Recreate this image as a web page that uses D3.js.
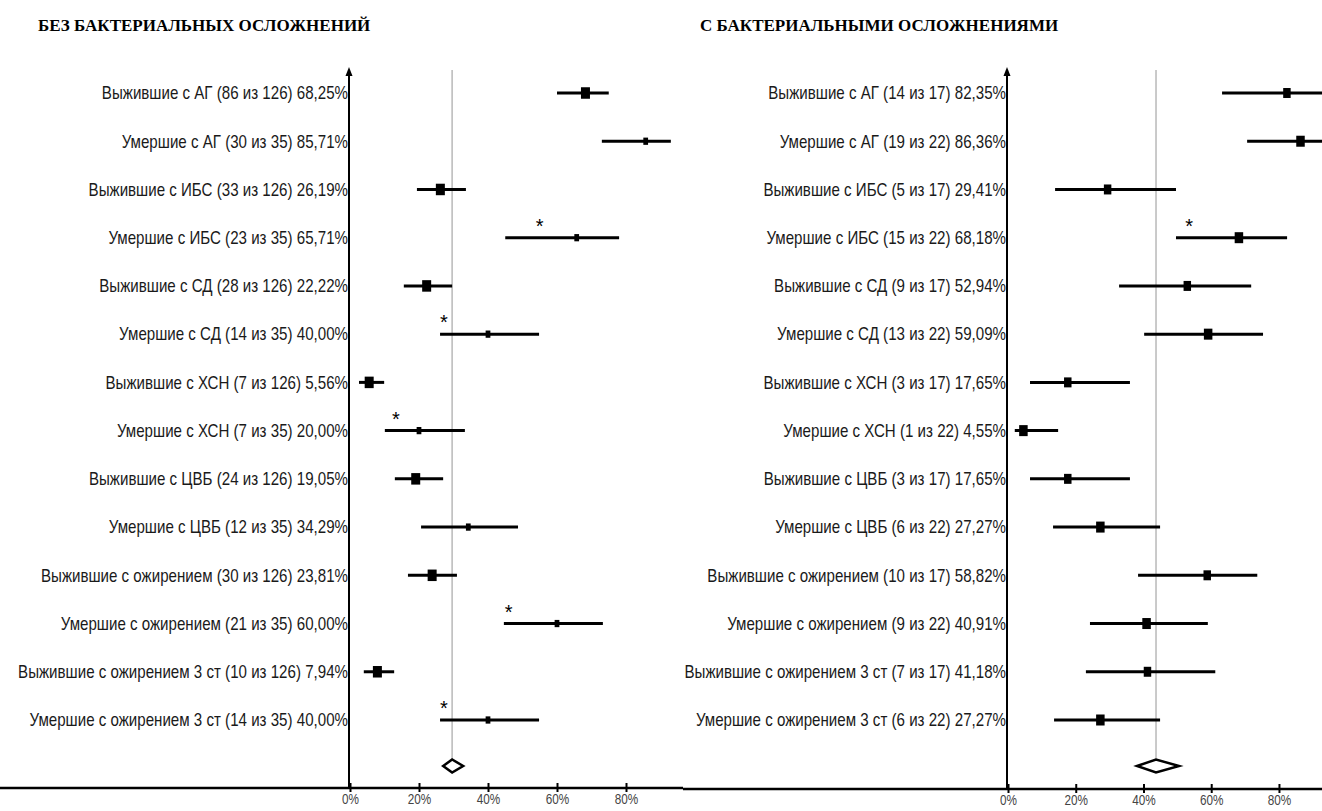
<!DOCTYPE html>
<html>
<head>
<meta charset="utf-8">
<script src="https://cdn.jsdelivr.net/npm/d3@7"></script>
<style>
  html, body { margin: 0; padding: 0; background: #fff; }
  svg { display: block; }
  .row-label { font-family: "Liberation Sans Narrow", "Liberation Sans", Arial, sans-serif; font-size: 18px; fill: #1a1a1a; }
  .tick text { font-family: "Liberation Sans Narrow", "Liberation Sans", Arial, sans-serif; font-size: 14px; fill: #444; }
  .title { font-family: "Liberation Serif", "Times New Roman", serif; font-weight: bold; font-size: 17px; fill: #000; }
  .star { font-family: "Liberation Sans", sans-serif; font-size: 20px; fill: #000; }
</style>
</head>
<body>
<svg id="chart" width="1322" height="811"></svg>
<script>
// ---- Без бактериальных осложнений ----
const leftLabels = [
  "Выжившие с АГ (86 из 126) 68,25%",
  "Умершие с АГ (30 из 35) 85,71%",
  "Выжившие с ИБС (33 из 126) 26,19%",
  "Умершие с ИБС (23 из 35) 65,71%",
  "Выжившие с СД (28 из 126) 22,22%",
  "Умершие с СД (14 из 35) 40,00%",
  "Выжившие с ХСН (7 из 126) 5,56%",
  "Умершие с ХСН (7 из 35) 20,00%",
  "Выжившие с ЦВБ (24 из 126) 19,05%",
  "Умершие с ЦВБ (12 из 35) 34,29%",
  "Выжившие с ожирением (30 из 126) 23,81%",
  "Умершие с ожирением (21 из 35) 60,00%",
  "Выжившие с ожирением 3 ст (10 из 126) 7,94%",
  "Умершие с ожирением 3 ст (14 из 35) 40,00%"
];
const leftValues = [68.25, 85.71, 26.19, 65.71, 22.22, 40.00, 5.56, 20.00, 19.05, 34.29, 23.81, 60.00, 7.94, 40.00];
const leftLow    = [60.0, 73.0, 19.4, 45.0, 15.6, 26.1, 2.6, 10.1, 13.0, 20.6, 16.8, 44.6, 4.0, 26.1];
const leftHigh   = [75.0, 93.0, 33.6, 78.0, 29.6, 54.8, 9.9, 33.3, 27.0, 48.7, 31.0, 73.3, 12.8, 54.8];
const leftN      = [126, 35, 126, 35, 126, 35, 126, 35, 126, 35, 126, 35, 126, 35];
// value at which a significance asterisk is placed (null = none)
const leftStar   = [null, null, null, 55.0, null, 27.2, null, 13.3, null, null, null, 46.0, null, 27.2];
const leftPooled = [29.6, 27.0, 32.8];   // estimate, low, high

// ---- С бактериальными осложнениями ----
const rightLabels = [
  "Выжившие с АГ (14 из 17) 82,35%",
  "Умершие с АГ (19 из 22) 86,36%",
  "Выжившие с ИБС (5 из 17) 29,41%",
  "Умершие с ИБС (15 из 22) 68,18%",
  "Выжившие с СД (9 из 17) 52,94%",
  "Умершие с СД (13 из 22) 59,09%",
  "Выжившие с ХСН (3 из 17) 17,65%",
  "Умершие с ХСН (1 из 22) 4,55%",
  "Выжившие с ЦВБ (3 из 17) 17,65%",
  "Умершие с ЦВБ (6 из 22) 27,27%",
  "Выжившие с ожирением (10 из 17) 58,82%",
  "Умершие с ожирением (9 из 22) 40,91%",
  "Выжившие с ожирением 3 ст (7 из 17) 41,18%",
  "Умершие с ожирением 3 ст (6 из 22) 27,27%"
];
const rightValues = [82.35, 86.36, 29.41, 68.18, 52.94, 59.09, 17.65, 4.55, 17.65, 27.27, 58.82, 40.91, 41.18, 27.27];
const rightLow    = [63.2, 70.6, 13.9, 49.6, 32.8, 40.2, 6.5, 2.0, 6.5, 13.3, 38.4, 24.2, 23.0, 13.6];
const rightHigh   = [94.0, 95.5, 49.6, 82.4, 71.8, 75.3, 36.0, 14.8, 36.0, 44.9, 73.6, 59.0, 61.2, 44.9];
const rightN      = [17, 22, 17, 22, 17, 22, 17, 22, 17, 22, 17, 22, 17, 22];
const rightStar   = [null, null, null, 53.5, null, null, null, null, null, null, null, null, null, null];
const rightPooled = [43.7, 38.1, 50.5];

const tickValues = [0, 20, 40, 60, 80];
const titles = ["БЕЗ БАКТЕРИАЛЬНЫХ ОСЛОЖНЕНИЙ", "С БАКТЕРИАЛЬНЫМИ ОСЛОЖНЕНИЯМИ"];

// narrow look for the sans labels
const squeeze = 0.84;

const svg = d3.select("#chart");

const panels = [
  { title: titles[0], labels: leftLabels, values: leftValues, low: leftLow, high: leftHigh, n: leftN, star: leftStar, pooled: leftPooled,
    x0: 350, pxPer100: 345, axisFrom: 0, axisTo: 683, axisY: 788, titleX: 38, markerMax: 9, nMax: 126 },
  { title: titles[1], labels: rightLabels, values: rightValues, low: rightLow, high: rightHigh, n: rightN, star: rightStar, pooled: rightPooled,
    x0: 1008, pxPer100: 338.7, axisFrom: 683, axisTo: 1322, axisY: 789, titleX: 700, markerMax: 8.5, nMax: 22 }
];

panels.forEach(p => {
  const g = svg.append("g");
  const x = d3.scaleLinear().domain([0, 100]).range([p.x0, p.x0 + p.pxPer100]);
  const y = d3.scalePoint().domain(d3.range(p.labels.length)).range([93, 720]);
  const size = d3.scaleSqrt().domain([0, p.nMax]).range([0, p.markerMax]);

  // title
  g.append("text").attr("class", "title")
    .attr("x", p.titleX).attr("y", 31).text(p.title);

  // reference line at pooled estimate
  g.append("line")
    .attr("x1", x(p.pooled[0])).attr("x2", x(p.pooled[0]))
    .attr("y1", 70).attr("y2", 760)
    .attr("stroke", "#bdbdbd").attr("stroke-width", 1.6);

  // row labels
  g.selectAll("text.row-label").data(p.labels).join("text")
    .attr("class", "row-label")
    .attr("transform", (d, i) => `translate(${p.x0 - 2},${y(i)}) scale(${squeeze},1)`)
    .attr("dy", "0.35em").attr("text-anchor", "end")
    .text(d => d);

  const rows = p.values.map((v, i) => ({ v, lo: p.low[i], hi: p.high[i], n: p.n[i], star: p.star[i], i }));

  // confidence intervals
  g.selectAll("line.ci").data(rows).join("line")
    .attr("class", "ci")
    .attr("x1", d => x(d.lo)).attr("x2", d => x(d.hi))
    .attr("y1", d => y(d.i)).attr("y2", d => y(d.i))
    .attr("stroke", "#000").attr("stroke-width", 3);

  // point estimates, square size by group size
  g.selectAll("rect.pt").data(rows).join("rect")
    .attr("class", "pt")
    .attr("x", d => x(d.v) - size(d.n) / 2)
    .attr("y", d => y(d.i) - (size(d.n) + 2.5) / 2)
    .attr("width", d => size(d.n))
    .attr("height", d => size(d.n) + 2.5)
    .attr("fill", "#000");

  // significance marks
  g.selectAll("text.star").data(rows.filter(d => d.star !== null)).join("text")
    .attr("class", "star")
    .attr("x", d => x(d.star)).attr("y", d => y(d.i) - 5)
    .attr("text-anchor", "middle")
    .text("*");

  // pooled diamond
  const dy = 6.5, cy = 766;
  g.append("path")
    .attr("d", `M${x(p.pooled[1])},${cy} L${x(p.pooled[0])},${cy - dy} L${x(p.pooled[2])},${cy} L${x(p.pooled[0])},${cy + dy} Z`)
    .attr("fill", "#fff").attr("stroke", "#000").attr("stroke-width", 2.5)
    .attr("stroke-linejoin", "miter");

  // vertical axis with arrow
  g.append("line")
    .attr("x1", p.x0 - 1).attr("x2", p.x0 - 1)
    .attr("y1", 74).attr("y2", p.axisY)
    .attr("stroke", "#000").attr("stroke-width", 2);
  g.append("path")
    .attr("d", `M${p.x0 - 1},67 L${p.x0 + 2.5},76 L${p.x0 - 4.5},76 Z`)
    .attr("fill", "#000");

  // horizontal axis
  g.append("line")
    .attr("x1", p.axisFrom).attr("x2", p.axisTo)
    .attr("y1", p.axisY).attr("y2", p.axisY)
    .attr("stroke", "#000").attr("stroke-width", 2.5);

  const axis = d3.axisBottom(x).tickValues(tickValues).tickFormat(d => d + "%").tickSize(4).tickPadding(2);
  const ax = g.append("g").attr("transform", `translate(0,${p.axisY})`).call(axis);
  ax.select(".domain").remove();
  ax.selectAll(".tick line").attr("y1", -5).attr("stroke", "#000").attr("stroke-width", 2);
  ax.selectAll(".tick text").attr("transform", `scale(${squeeze},1)`);
});
</script>
</body>
</html>
